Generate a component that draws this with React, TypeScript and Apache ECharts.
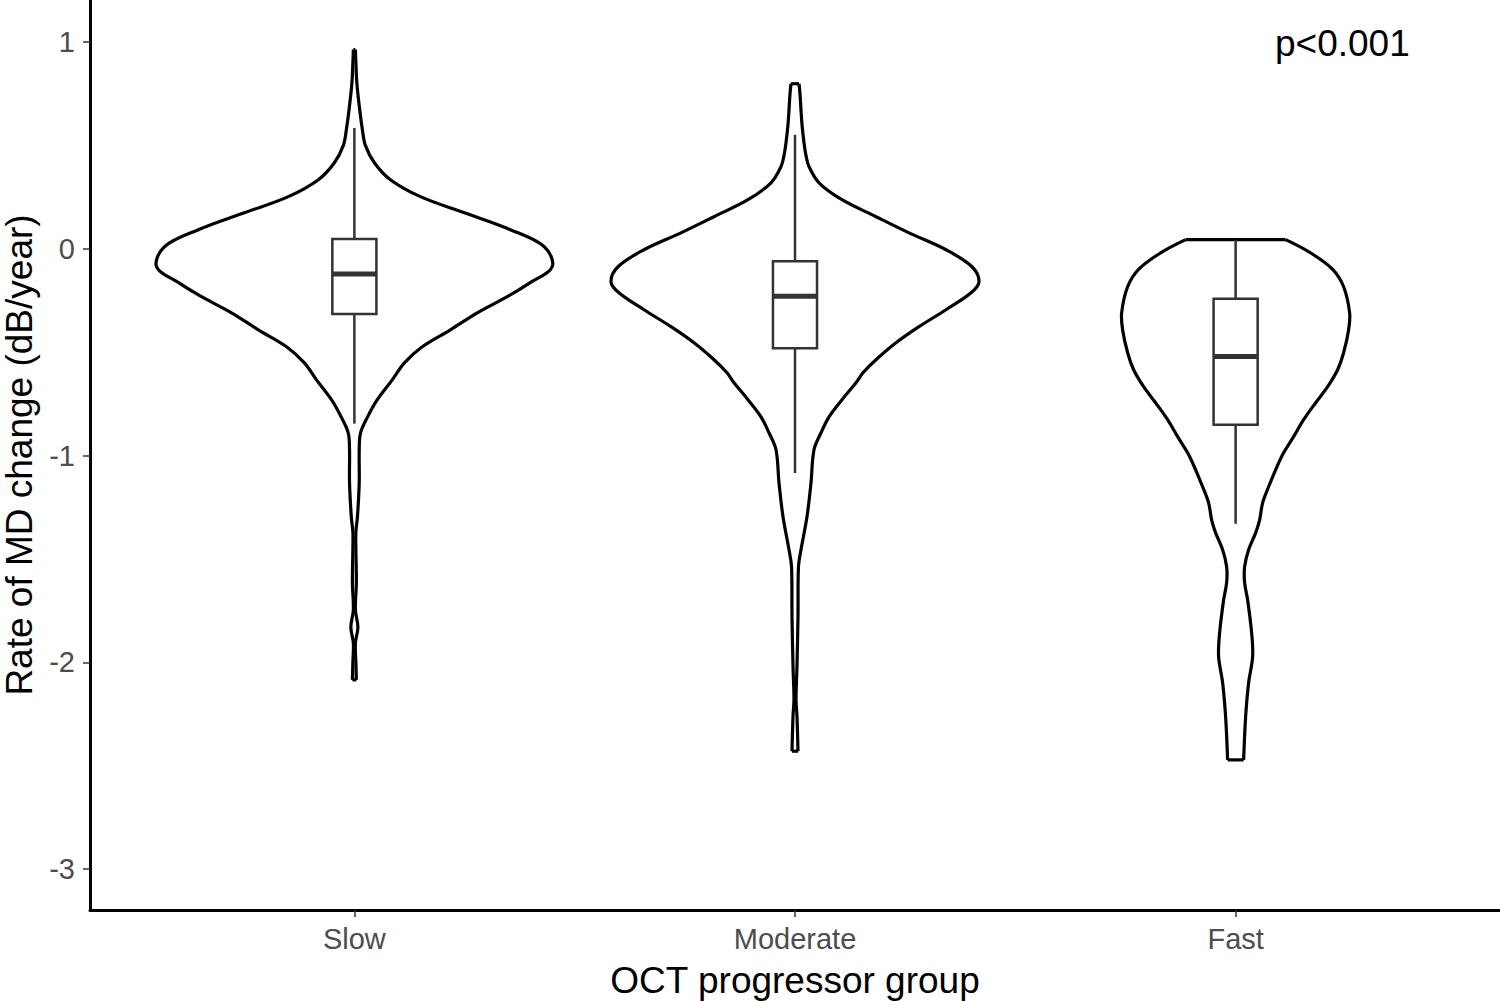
import React, { useEffect, useRef } from "react";
import * as echarts from "echarts";

// ---- data ----
const categories = ["Slow", "Moderate", "Fast"];
const yTickValues = [-3, -2, -1, 0, 1];
const xTickValues = [1, 2, 3];
const yMin = -3.198;
const yMax = 1.203;
const xMin = 0.4;
const xMax = 3.6;

// violin outlines: value (dB/year) and half-width in category units
const slowY = [0.963, 0.9, 0.8, 0.687, 0.576, 0.5, 0.416, 0.334, 0.252, 0.174, 0.092, 0.01, -0.087, -0.164, -0.232, -0.31, -0.392, -0.474, -0.553, -0.634, -0.73, -0.813, -0.89, -0.972, -1.13, -1.296, -1.37, -1.45, -1.615, -1.746, -1.83, -1.906, -2.0, -2.085];
const slowW = [0.0023, 0.0034, 0.0057, 0.0113, 0.0182, 0.025, 0.0454, 0.0817, 0.1498, 0.2497, 0.354, 0.431, 0.449, 0.399, 0.347, 0.279, 0.218, 0.154, 0.113, 0.086, 0.052, 0.03, 0.014, 0.011, 0.011, 0.007, 0.0034, 0.0034, 0.0045, 0.0023, 0.008, 0.0023, 0.0034, 0.0045];

const moderateY = [0.798, 0.75, 0.672, 0.6, 0.513, 0.45, 0.397, 0.319, 0.237, 0.155, 0.077, -0.005, -0.087, -0.16, -0.213, -0.295, -0.377, -0.455, -0.537, -0.6, -0.648, -0.73, -0.813, -0.89, -0.972, -1.132, -1.296, -1.456, -1.538, -1.78, -2.02, -2.18, -2.26, -2.43];
const moderateW = [0.0091, 0.0113, 0.0136, 0.0159, 0.0204, 0.025, 0.0318, 0.0545, 0.1067, 0.1838, 0.2587, 0.3427, 0.4017, 0.4176, 0.3995, 0.3427, 0.2814, 0.2292, 0.1838, 0.1543, 0.1384, 0.1067, 0.0772, 0.059, 0.0431, 0.0363, 0.0272, 0.0136, 0.0079, 0.0068, 0.0045, 0.0023, 0.0045, 0.0068];

const fastY = [0.044, -0.02, -0.1, -0.184, -0.31, -0.392, -0.503, -0.585, -0.667, -0.745, -0.827, -0.909, -0.987, -1.069, -1.151, -1.229, -1.311, -1.374, -1.456, -1.538, -1.615, -1.698, -1.857, -1.973, -2.099, -2.264, -2.472];
const fastW = [0.1135, 0.1702, 0.2202, 0.2451, 0.2587, 0.2565, 0.2451, 0.2315, 0.2088, 0.1816, 0.1543, 0.1316, 0.1089, 0.0908, 0.0749, 0.0613, 0.0545, 0.0454, 0.0295, 0.0204, 0.0204, 0.0272, 0.0363, 0.0386, 0.0295, 0.0227, 0.0182];

// box plot statistics per group
const whiskerLow = [-0.846, -1.085, -1.33];
const q1 = [-0.316, -0.481, -0.851];
const median = [-0.122, -0.23, -0.521];
const q3 = [0.047, -0.061, -0.242];
const whiskerHigh = [0.584, 0.551, 0.044];

const pValueText = "p<0.001";
const xTitle = "OCT progressor group";
const yTitle = "Rate of MD change (dB/year)";

const violinYs = [slowY, moderateY, fastY];
const violinWs = [slowW, moderateW, fastW];

const FONT = "'Liberation Sans', Arial, Helvetica, sans-serif";
const BOX_HALF = 0.05;

export default function App() {
  const ref = useRef<HTMLDivElement>(null);

  useEffect(() => {
    if (!ref.current) return;
    const chart = echarts.init(ref.current, null, { renderer: "svg" });

    const violinData = categories.map((_, i) => [i + 1, i]);
    const boxData = categories.map((_, i) => [
      i + 1,
      whiskerLow[i],
      q1[i],
      median[i],
      q3[i],
      whiskerHigh[i],
    ]);

    const option: any = {
      animation: false,
      backgroundColor: "#ffffff",
      grid: {
        left: 90,
        right: 0,
        top: 0,
        bottom: 91,
        containLabel: false,
        outerBoundsMode: "none",
      },
      xAxis: {
        type: "value",
        min: xMin,
        max: xMax,
        name: xTitle,
        nameLocation: "middle",
        nameGap: 52,
        nameTextStyle: { color: "#000000", fontSize: 37, fontFamily: FONT },
        axisLine: { show: true, onZero: false, lineStyle: { color: "#000000", width: 3 } },
        axisTick: {
          show: true,
          length: 7,
          customValues: xTickValues,
          lineStyle: { color: "#333333", width: 1.5 },
        },
        axisLabel: {
          show: true,
          customValues: xTickValues,
          margin: 14,
          color: "#4d4d4d",
          fontSize: 29,
          fontFamily: FONT,
          formatter: (v: number) => categories[Math.round(v) - 1] ?? "",
        },
        splitLine: { show: false },
      },
      yAxis: {
        type: "value",
        min: yMin,
        max: yMax,
        name: yTitle,
        nameLocation: "middle",
        nameGap: 50,
        nameRotate: 90,
        nameTextStyle: { color: "#000000", fontSize: 37, fontFamily: FONT },
        axisLine: { show: true, onZero: false, lineStyle: { color: "#000000", width: 3 } },
        axisTick: {
          show: true,
          length: 7,
          customValues: yTickValues,
          lineStyle: { color: "#333333", width: 1.5 },
        },
        axisLabel: {
          show: true,
          customValues: yTickValues,
          margin: 15,
          color: "#4d4d4d",
          fontSize: 29,
          fontFamily: FONT,
          formatter: (v: number) => String(Math.round(v)),
        },
        splitLine: { show: false },
      },
      graphic: [
        {
          type: "text",
          left: 1275,
          top: 25,
          style: {
            text: pValueText,
            fill: "#000000",
            fontSize: 37,
            fontFamily: FONT,
          },
        },
      ],
      series: [
        {
          type: "custom",
          name: "violin",
          data: violinData,
          encode: { x: 0 },
          renderItem: (params: any, api: any) => {
            const idx = api.value(1);
            const cx = api.value(0);
            const ys = violinYs[idx];
            const ws = violinWs[idx];
            const right = ys.map((y, k) => api.coord([cx + ws[k], y]));
            const left = ys.map((y, k) => api.coord([cx - ws[k], y]));
            const style = { stroke: "#000000", lineWidth: 3.2, fill: null };
            const n = ys.length - 1;
            return {
              type: "group",
              children: [
                { type: "polyline", shape: { points: right, smooth: 0.35 }, style },
                { type: "polyline", shape: { points: left, smooth: 0.35 }, style },
                {
                  type: "line",
                  shape: { x1: left[0][0], y1: left[0][1], x2: right[0][0], y2: right[0][1] },
                  style,
                },
                {
                  type: "line",
                  shape: { x1: left[n][0], y1: left[n][1], x2: right[n][0], y2: right[n][1] },
                  style,
                },
              ],
            };
          },
          z: 2,
        },
        {
          type: "custom",
          name: "box",
          data: boxData,
          encode: { x: 0, y: [1, 2, 3, 4, 5] },
          renderItem: (params: any, api: any) => {
            const x = api.value(0);
            const lo = api.value(1);
            const b1 = api.value(2);
            const med = api.value(3);
            const b3 = api.value(4);
            const hi = api.value(5);
            const pHi = api.coord([x, hi]);
            const pQ3 = api.coord([x, b3]);
            const pQ1 = api.coord([x, b1]);
            const pLo = api.coord([x, lo]);
            const tl = api.coord([x - BOX_HALF, b3]);
            const br = api.coord([x + BOX_HALF, b1]);
            const ml = api.coord([x - BOX_HALF, med]);
            const mr = api.coord([x + BOX_HALF, med]);
            const lineStyle = { stroke: "#333333", lineWidth: 2.5 };
            return {
              type: "group",
              children: [
                { type: "line", shape: { x1: pHi[0], y1: pHi[1], x2: pQ3[0], y2: pQ3[1] }, style: lineStyle },
                { type: "line", shape: { x1: pQ1[0], y1: pQ1[1], x2: pLo[0], y2: pLo[1] }, style: lineStyle },
                {
                  type: "rect",
                  shape: { x: tl[0], y: tl[1], width: br[0] - tl[0], height: br[1] - tl[1] },
                  style: { fill: "#ffffff", stroke: "#333333", lineWidth: 2.5 },
                },
                {
                  type: "line",
                  shape: { x1: ml[0], y1: ml[1], x2: mr[0], y2: mr[1] },
                  style: { stroke: "#333333", lineWidth: 5 },
                },
              ],
            };
          },
          z: 3,
        },
      ],
    };

    chart.setOption(option);
    return () => {
      chart.dispose();
    };
  }, []);

  return (
    <div
      ref={ref}
      style={{ position: "fixed", left: 0, top: 0, width: 1500, height: 1001, background: "#ffffff" }}
    />
  );
}
